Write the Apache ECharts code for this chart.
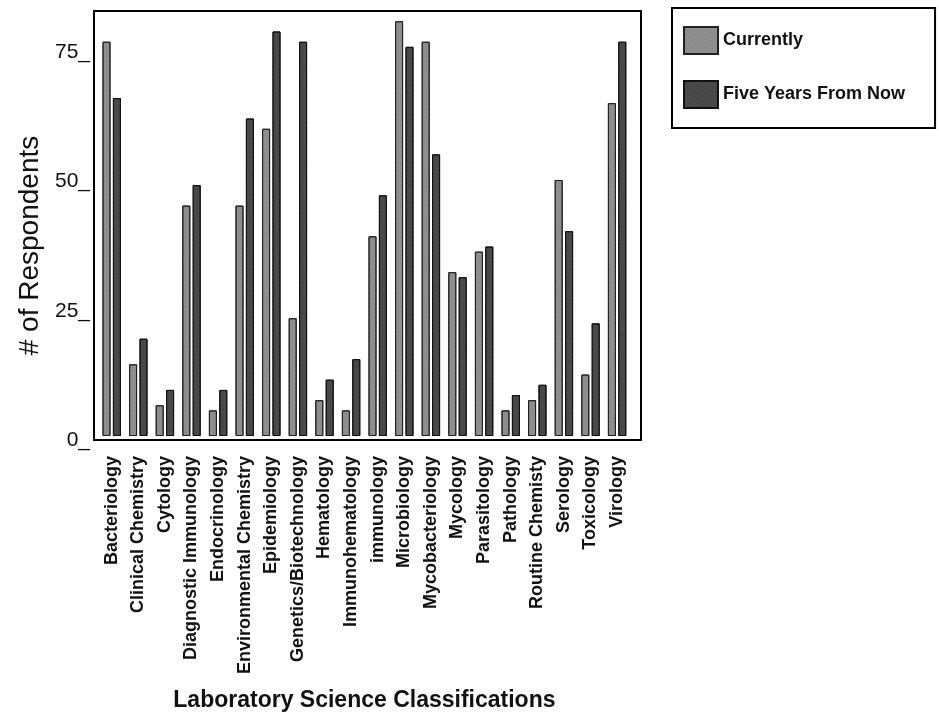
<!DOCTYPE html>
<html>
<head>
<meta charset="utf-8">
<title>Laboratory Science Classifications</title>
<script src="https://cdn.jsdelivr.net/npm/echarts@6/dist/echarts.min.js"></script>
<style>
    html, body { margin: 0; padding: 0; background: #fff; }
    #chart { width: 939px; height: 717px; }
</style>
</head>
<body>
<div id="chart"></div>
<script>
'use strict';

var categories = ['Bacteriology', 'Clinical Chemistry', 'Cytology', 'Diagnostic Immunology', 'Endocrinology',
    'Environmental Chemistry', 'Epidemiology', 'Genetics/Biotechnology', 'Hematology', 'Immunohematology',
    'immunology', 'Microbiology', 'Mycobacteriology', 'Mycology', 'Parasitology', 'Pathology',
    'Routine Chemisty', 'Serology', 'Toxicology', 'Virology'];
var currently = [77, 14, 6, 45, 5, 45, 60, 23, 7, 5, 39, 81, 77, 32, 36, 5, 7, 50, 12, 65];
var fiveYears = [66, 19, 9, 49, 9, 62, 79, 77, 11, 15, 47, 76, 55, 31, 37, 8, 10, 40, 22, 77];
var yTicks = [0, 25, 50, 75];

var FONT = '"Liberation Sans", Arial, Helvetica, sans-serif';
var Y_MAX = 83;

function stipple(color) {
    return {
        symbol: 'rect',
        symbolSize: 0.6,
        color: color,
        dashArrayX: [1, 2],
        dashArrayY: [1, 3],
        rotation: 0.4
    };
}

var chart = echarts.init(document.getElementById('chart'));

chart.setOption({
    backgroundColor: '#fff',
    animation: false,
    legend: {
        orient: 'vertical',
        left: 672,
        top: 8,
        padding: [18, 30, 19, 11],
        icon: 'rect',
        itemWidth: 34,
        itemHeight: 27,
        itemGap: 25,
        borderColor: '#000',
        borderWidth: 2,
        textStyle: { fontFamily: FONT, fontSize: 18, fontWeight: 'bold', color: '#111' },
        data: ['Currently', 'Five Years From Now']
    },
    grid: [
        // bars
        { left: 98.4, right: 308.6, top: 11, bottom: 277 },
        // frame + value labels
        { left: 94, right: 298, top: 11, bottom: 277, show: true, borderColor: '#000', borderWidth: 2 }
    ],
    xAxis: [{
        gridIndex: 0,
        type: 'category',
        data: categories,
        axisLine: { show: false },
        axisTick: { show: false },
        axisLabel: {
            interval: 0,
            rotate: 90,
            margin: 20,
            fontFamily: FONT,
            fontSize: 18,
            fontWeight: 'bold',
            color: '#111'
        },
        name: 'Laboratory Science Classifications',
        nameLocation: 'middle',
        nameGap: 253,
        nameTextStyle: { fontFamily: FONT, fontSize: 23, fontWeight: 'bold', color: '#111', verticalAlign: 'top' }
    }, {
        gridIndex: 1,
        type: 'value',
        show: false
    }],
    yAxis: [{
        gridIndex: 0,
        type: 'value',
        min: 0,
        max: Y_MAX,
        show: false
    }, {
        gridIndex: 1,
        type: 'value',
        min: 0,
        max: Y_MAX,
        interval: 25,
        axisLine: { show: false },
        axisTick: { show: false },
        splitLine: { show: false },
        axisLabel: {
            margin: 4,
            showMaxLabel: false,
            fontFamily: FONT,
            fontSize: 21,
            color: '#111',
            formatter: function (v) {
                return yTicks.indexOf(v) >= 0 ? v + '_' : '';
            }
        },
        name: '# of Respondents',
        nameLocation: 'middle',
        nameGap: 50,
        nameTextStyle: { fontFamily: FONT, fontSize: 28, color: '#111', padding: [0, 40, 0, 0] }
    }],
    series: [{
        name: 'Currently',
        type: 'bar',
        xAxisIndex: 0,
        yAxisIndex: 0,
        data: currently,
        barWidth: 8,
        barGap: '30%',
        itemStyle: {
            color: '#8c8c8c',
            borderColor: '#222',
            borderWidth: 1,
            decal: stipple('rgba(255,255,255,0.45)')
        }
    }, {
        name: 'Five Years From Now',
        type: 'bar',
        xAxisIndex: 0,
        yAxisIndex: 0,
        data: fiveYears,
        barWidth: 8,
        itemStyle: {
            color: '#474747',
            borderColor: '#111',
            borderWidth: 1,
            decal: stipple('rgba(255,255,255,0.3)')
        }
    }]
});
</script>
</body>
</html>
